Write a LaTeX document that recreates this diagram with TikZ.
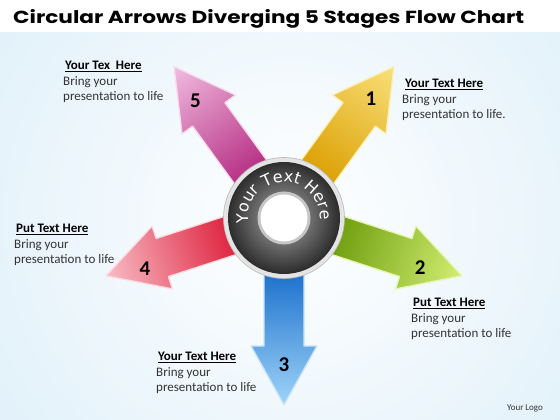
\documentclass[tikz,border=0pt]{standalone}
\usepackage{graphicx}
\usepackage{fontspec}
\setmainfont{Carlito}
\newfontfamily\titlefont{Poppins}
\newfontfamily\ringfont{DejaVu Sans}
\usetikzlibrary{decorations.text}
\definecolor{bgblue}{HTML}{CDE7F6}
\definecolor{aOneD}{HTML}{DB9E00}
\definecolor{aOneL}{HTML}{F8E07A}
\definecolor{aTwoD}{HTML}{6C9C0C}
\definecolor{aTwoL}{HTML}{D2EE72}
\definecolor{aThreeD}{HTML}{186ECB}
\definecolor{aThreeL}{HTML}{A0D4F8}
\definecolor{aFourD}{HTML}{DE1E3A}
\definecolor{aFourL}{HTML}{F8BCC6}
\definecolor{aFiveD}{HTML}{B42A80}
\definecolor{aFiveL}{HTML}{F1BCE0}
\definecolor{ringdark}{HTML}{2E2E2E}
\definecolor{ringlight}{HTML}{717171}
\definecolor{ringrim}{HTML}{E4E4E4}
\newcommand\stagearrow[3]{%
  \begin{scope}[transform canvas={shift={(284,202)},rotate=#1}]
    \path[arrowbody, left color=#2, right color=#3, draw=#3!55!white]
      (50,-20) -- (128,-20) -- (128,-33) -- (187,0) -- (128,33) -- (128,20) -- (50,20) -- cycle;
  \end{scope}}
\begin{document}
\begin{tikzpicture}[x=1pt,y=1pt,
  num/.style={font=\fontsize{21}{21}\selectfont\bfseries, text=black, inner sep=0pt},
  blurb/.style={anchor=base west, align=left, font=\fontsize{13}{15.5}\selectfont, text=black!80, inner sep=0pt},
  arrowbody/.style={line width=1.3pt, line join=round}]
\useasboundingbox (0,0) rectangle (560,420);
\begin{scope}
  \clip (0,0) rectangle (560,420);
  \shade[inner color=white, outer color=bgblue] (290,200) circle (600);
\end{scope}
\fill[white] (0,388) rectangle (560,420);
\coordinate (c) at (284,202);
% arrows
\stagearrow{54}{aOneD}{aOneL}
\stagearrow{-18}{aTwoD}{aTwoL}
\stagearrow{-90}{aThreeD}{aThreeL}
\stagearrow{198}{aFourD}{aFourL}
\stagearrow{126}{aFiveD}{aFiveL}
% ring
\fill[ringrim] (c) circle (60.5);
\draw[gray!55, line width=0.6pt] (c) circle (60.5);
\foreach \i in {0,...,30}{%
  \pgfmathsetmacro\p{100*\i/30}
  \fill[ringlight!\p!ringdark] (c) circle ({56-\i});
}
\fill[gray!45] (c) circle (26.5);
\fill[white] (c) circle (23.5);
\path[decorate, decoration={text along path, text align=center,
  text={|\ringfont\fontsize{16}{16}\selectfont\color{white}|Your Text  Here}}]
  ([shift={(198:36)}]c) arc (198:-13:36);
% numbers
\node[num] (n1) at ([shift={(54:148)}]c) {1};
\node[num] (n2) at ([shift={(-20:145)}]c) {2};
\node[num] (n3) at ([shift={(-90:147)}]c) {3};
\node[num] (n4) at ([shift={(200:148)}]c) {4};
\node[num] (n5) at ([shift={(127:147)}]c) {5};
% text blocks (anchored at baseline of last line)
\node[blurb] (t5) at (63,319) {\hspace*{2pt}\textcolor{black}{\underline{\textbf{Your Tex\ \ Here}}}\\Bring your\\presentation to life};
\node[blurb] (t1) at (402,301) {\hspace*{3pt}\textcolor{black}{\underline{\textbf{Your Text Here}}}\\Bring your\\presentation to life.};
\node[blurb] (t4) at (14,156) {\hspace*{2pt}\textcolor{black}{\underline{\textbf{Put Text Here}}}\\Bring your\\presentation to life};
\node[blurb] (t2) at (411,82) {\hspace*{2pt}\textcolor{black}{\underline{\textbf{Put Text Here}}}\\Bring your\\presentation to life};
\node[blurb] (t3) at (156,28) {\hspace*{2pt}\textcolor{black}{\underline{\textbf{Your Text Here}}}\\Bring your\\presentation to life};
\node[font=\fontsize{9}{9}\selectfont, text=black!80] (logo) at (525,12) {Your Logo};
% title
\node[anchor=base west, inner sep=0pt] (title) at (13,396)
  {\resizebox{511pt}{14pt}{\titlefont\bfseries Circular Arrows Diverging 5 Stages Flow Chart}};
\end{tikzpicture}
\end{document}
